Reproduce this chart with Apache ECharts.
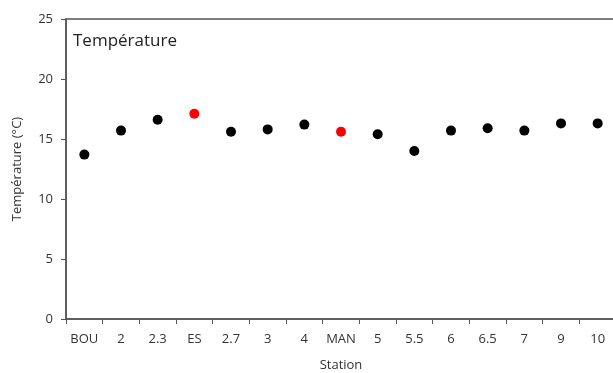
<!DOCTYPE html>
<html><head><meta charset="utf-8">
<script src="https://cdn.jsdelivr.net/npm/echarts@6/dist/echarts.min.js"></script>
<style>html,body{margin:0;padding:0;background:#fff}#c{width:613px;height:373px}</style>
</head><body><div id="c"></div>
<script>
const categories = ["BOU","2","2.3","ES","2.7","3","4","MAN","5","5.5","6","6.5","7","9","10"];
const temperatures = [13.7,15.7,16.6,17.1,15.6,15.8,16.2,15.6,15.4,14.0,15.7,15.9,15.7,16.3,16.3];
const highlighted = ["ES","MAN"];
const yTicks = [0,5,10,15,20,25];

const font = "'Open Sans', 'Liberation Sans', sans-serif";
const chart = echarts.init(document.getElementById('c'), null, {renderer:'canvas'});
chart.setOption({
  animation:false,
  backgroundColor:'#fff',
  title:{text:'Température', left:68, top:28, textStyle:{fontFamily:font, fontSize:17, fontWeight:'normal', color:'#222'}},
  grid:{left:66, top:19, right:-3, bottom:54, show:true, borderColor:'#555', borderWidth:1.5,
    containLabel:false, outerBoundsMode:'none'},
  xAxis:{type:'category', data:categories, name:'Station', nameLocation:'middle', nameGap:40,
    nameTextStyle:{fontFamily:font, fontSize:13, color:'#333'},
    axisLine:{lineStyle:{color:'#555', width:1.5}},
    axisTick:{show:true, alignWithLabel:false, length:5, lineStyle:{color:'#555'}},
    axisLabel:{fontFamily:font, fontSize:13, color:'#333', margin:14, interval:0}},
  yAxis:{type:'value', min:yTicks[0], max:yTicks[yTicks.length-1], interval:5,
    name:'Température (°C)', nameLocation:'middle', nameGap:42, nameRotate:90,
    nameTextStyle:{fontFamily:font, fontSize:13, color:'#333'},
    splitLine:{show:false},
    axisLine:{show:true, lineStyle:{color:'#555', width:1.5}},
    axisTick:{show:true, length:5, lineStyle:{color:'#555'}},
    axisLabel:{fontFamily:font, fontSize:13, color:'#333', margin:13}},
  series:[{type:'scatter', symbolSize:10,
    data:temperatures.map((v,i)=>({value:v, itemStyle:{opacity:1, color: highlighted.includes(categories[i]) ? '#ff0000' : '#000'}}))}]
});
</script></body></html>
